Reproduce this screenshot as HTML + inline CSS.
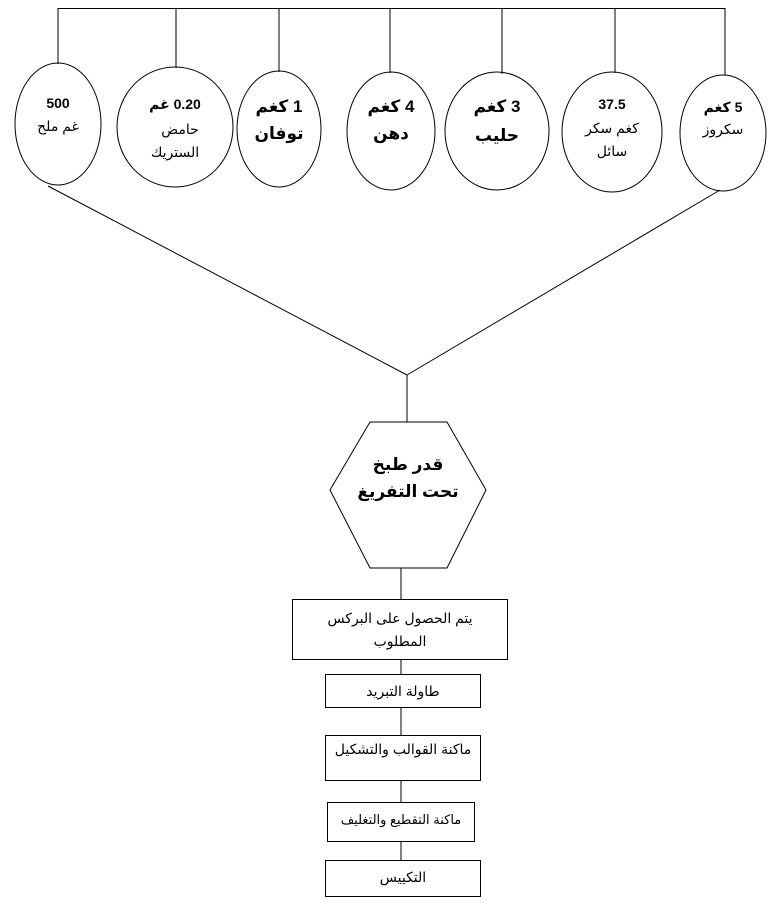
<!DOCTYPE html>
<html><head><meta charset="utf-8"><style>
html,body{margin:0;padding:0;background:#fff;}
svg{display:block;}
text{font-family:"Liberation Sans","DejaVu Sans",sans-serif;fill:#000;text-anchor:middle;}
.b{font-weight:bold;}
</style></head><body>
<svg width="776" height="904" viewBox="0 0 776 904" xmlns="http://www.w3.org/2000/svg">
<g stroke="#000" stroke-width="1" fill="none">
<line x1="58" y1="8.5" x2="725" y2="8.5"/>
<line x1="58" y1="8" x2="58" y2="64"/>
<line x1="176" y1="8" x2="176" y2="68"/>
<line x1="279" y1="8" x2="279" y2="72"/>
<line x1="390" y1="8" x2="390" y2="73"/>
<line x1="502" y1="8" x2="502" y2="74"/>
<line x1="615" y1="8" x2="615" y2="73"/>
<line x1="725" y1="8" x2="725" y2="75"/>
<ellipse cx="58" cy="124" rx="43" ry="61"/>
<ellipse cx="175" cy="127" rx="58" ry="60"/>
<ellipse cx="279" cy="129" rx="42" ry="58"/>
<ellipse cx="391" cy="131" rx="44" ry="59"/>
<ellipse cx="497" cy="131" rx="52" ry="59"/>
<ellipse cx="612" cy="132" rx="50" ry="60"/>
<ellipse cx="723" cy="133" rx="43" ry="58"/>
<line x1="48" y1="186" x2="407" y2="375"/>
<line x1="720" y1="190" x2="407" y2="375"/>
<line x1="407" y1="375" x2="407" y2="422"/>
<polygon points="370,422 447,422 486,490 447,568 370,568 330,490"/>
<line x1="401" y1="568" x2="401" y2="599"/>
<rect x="292.5" y="599.5" width="215" height="60"/>
<line x1="401" y1="660" x2="401" y2="674"/>
<rect x="325.5" y="674.5" width="155" height="33"/>
<line x1="401" y1="708" x2="401" y2="735"/>
<rect x="325.5" y="735.5" width="155" height="45"/>
<line x1="401" y1="781" x2="401" y2="802"/>
<rect x="327.5" y="802.5" width="147" height="39"/>
<line x1="401" y1="842" x2="401" y2="860"/>
<rect x="325.5" y="860.5" width="155" height="36"/>
</g>
<text x="58" y="108" class="b" font-size="14">500</text>
<text x="58" y="131" font-size="14" direction="rtl">غم ملح</text>
<text x="175" y="109" class="b" font-size="14" direction="rtl">0.20 غم</text>
<text x="180" y="134" font-size="14" direction="rtl">حامض</text>
<text x="175" y="157" font-size="14" direction="rtl">الستريك</text>
<text x="279" y="112" class="b" font-size="17" direction="rtl">1 كغم</text>
<text x="279" y="139" class="b" font-size="17" direction="rtl">توفان</text>
<text x="391" y="112" class="b" font-size="17" direction="rtl">4 كغم</text>
<text x="391" y="139" class="b" font-size="17" direction="rtl">دهن</text>
<text x="497" y="112" class="b" font-size="17" direction="rtl">3 كغم</text>
<text x="497" y="141" class="b" font-size="17" direction="rtl">حليب</text>
<text x="612" y="109" class="b" font-size="14">37.5</text>
<text x="612" y="133" font-size="14" direction="rtl">كغم سكر</text>
<text x="612" y="156" font-size="14" direction="rtl">سائل</text>
<text x="723" y="112" class="b" font-size="14" direction="rtl">5 كغم</text>
<text x="723" y="134" font-size="14" direction="rtl">سكروز</text>
<text x="408" y="470" class="b" font-size="17" direction="rtl">قدر طبخ</text>
<text x="408" y="497" class="b" font-size="17" direction="rtl">تحت التفريغ</text>
<text x="400" y="623" font-size="14" direction="rtl">يتم الحصول على البركس</text>
<text x="400" y="646" font-size="14" direction="rtl">المطلوب</text>
<text x="403" y="696" font-size="14" direction="rtl">طاولة التبريد</text>
<text x="403" y="754" font-size="14" direction="rtl">ماكنة القوالب والتشكيل</text>
<text x="401" y="824" font-size="13" direction="rtl">ماكنة التقطيع والتغليف</text>
<text x="403" y="882" font-size="14" direction="rtl">التكييس</text>
</svg>
</body></html>
